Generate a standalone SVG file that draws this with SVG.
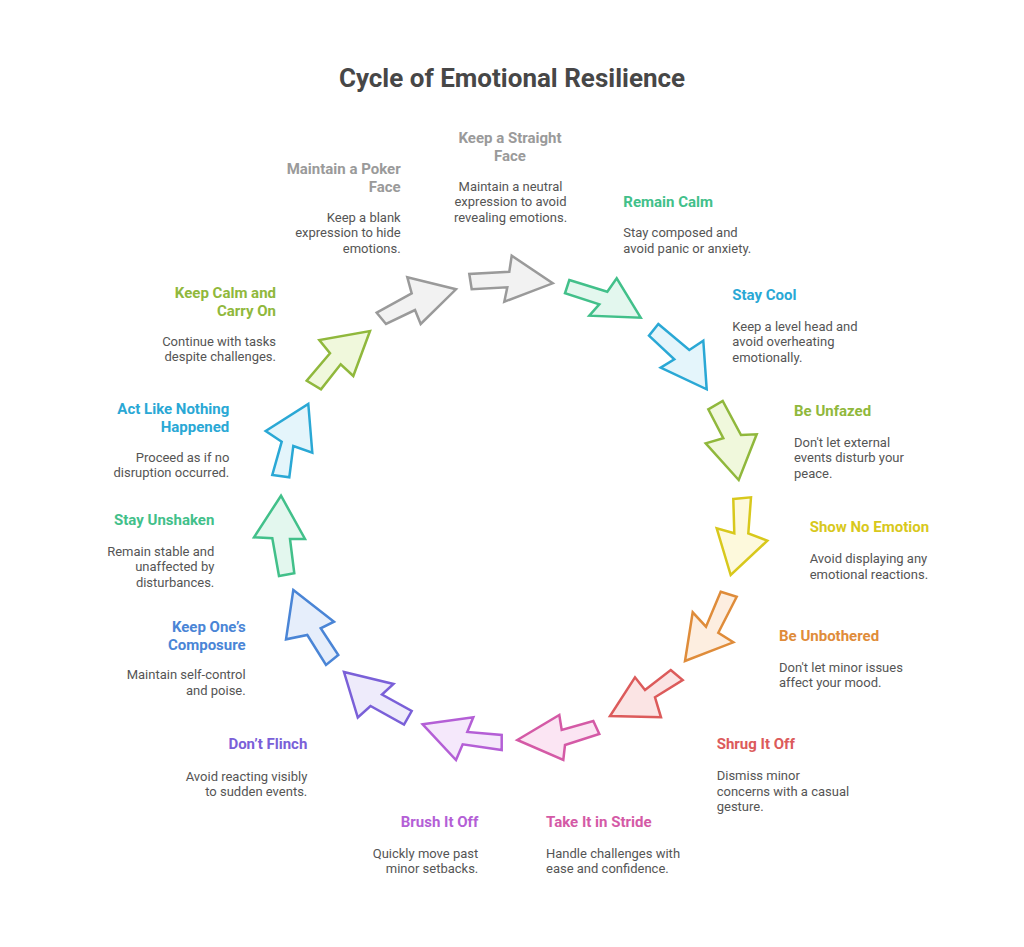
<svg xmlns="http://www.w3.org/2000/svg" width="1024" height="947" viewBox="0 0 1024 947">
<style>
.t{font-family:Roboto,"Liberation Sans",sans-serif;font-weight:700;font-size:15px}
.d{font-family:Roboto,"Liberation Sans",sans-serif;font-size:13px;fill:#555}
.h{font-family:Roboto,"Liberation Sans",sans-serif;font-weight:700;font-size:26px;fill:#474747}
.e{text-anchor:end}.m{text-anchor:middle}
.a{stroke-width:2.5;stroke-linejoin:miter}
.gray{fill:#9a9a9a}.green{fill:#42c08a}.cyan{fill:#2aa8d5}.yg{fill:#90b83c}.yel{fill:#d8c81c}.ora{fill:#df8c3a}.red{fill:#dc5b5b}.pink{fill:#d45aa6}.pur{fill:#b45fd6}.vio{fill:#7a60d8}.blue{fill:#4a85d6}
</style>
<rect width="1024" height="947" fill="#fff"/>
<text class="h m" x="512" y="87">Cycle of Emotional Resilience</text>
<g id="connectors">
<polygon class="a" fill="#f2f2f2" stroke="#9a9a9a" points="376.7,312.7 386,324 415,310 420.7,324 456,289.3 407.3,277.3 411.7,293.3"/>
<polygon class="a" fill="#f2f2f2" stroke="#9a9a9a" points="469.3,274 471.7,289.3 507.3,287.3 504.3,301.7 552.7,283.3 511.7,255.7 509.3,271.7"/>
<polygon class="a" fill="#e3f7ee" stroke="#42c08a" points="569.3,280 607.3,291.7 616.7,278.3 640.7,317.7 589.3,315.7 599.3,304.3 565,293.3"/>
<polygon class="a" fill="#e4f5fb" stroke="#2aa8d5" points="658.3,324 689.3,350 703.3,340.7 706.7,389.3 660.7,367.7 674.3,359.3 649,335.7"/>
<polygon class="a" fill="#f0f8dc" stroke="#90b83c" points="708.3,409.3 722.7,401 741,435 756.7,434.3 738.7,480 705.7,443.3 723.3,438.3"/>
<polygon class="a" fill="#fdf9dc" stroke="#d8c81c" points="733.3,499 751,497.3 748.3,533.3 767.3,540.7 730.7,575 716.7,528.3 734.3,533.3"/>
<polygon class="a" fill="#fdeee0" stroke="#df8c3a" points="720.7,591.7 736.7,596.7 718.3,632.7 733.3,642.3 685,661 692.7,612.3 706,626.7"/>
<polygon class="a" fill="#fbe4e4" stroke="#dc5b5b" points="670.7,670 682.7,680 655,697.3 661,717.3 610,716 635,677.3 645,690"/>
<polygon class="a" fill="#fbe5f3" stroke="#d45aa6" points="517.3,740 559.3,715 561.7,730 593.3,721 599.3,734 565,745 563.3,760"/>
<polygon class="a" fill="#f5e8fb" stroke="#b45fd6" points="422.7,724.3 473.3,717.3 467.3,732 501.7,735 501.7,750 462.7,744.3 456,760"/>
<polygon class="a" fill="#eeebfb" stroke="#7a60d8" points="344,672 393.5,684 382,694.5 411.7,711 404,724.5 370.5,706 357.8,717.5"/>
<polygon class="a" fill="#e6eefb" stroke="#4a85d6" points="293.3,590 334,621.7 320.7,628.3 338.3,655 326,665 307.3,635 286,639.3"/>
<polygon class="a" fill="#e3f7ee" stroke="#42c08a" points="281,495.7 305,539 290,539 294.3,573.3 279,576 272.3,538.3 254,537.3"/>
<polygon class="a" fill="#e4f5fb" stroke="#2aa8d5" points="308.3,404 312.3,452.7 293.3,446 289.3,477.3 272.3,475 281.7,441.7 265.7,431"/>
<polygon class="a" fill="#f0f8dc" stroke="#90b83c" points="370,331 353.3,376 340.7,364.3 321,389.3 306.7,380.7 330,353.3 319.3,340"/>
</g>
<g id="n-straight-face"><text class="t gray m" x="510" y="143.3">Keep a Straight</text><text class="t gray m" x="510" y="161.3">Face</text>
<text class="d m" x="510.5" y="190.7">Maintain a neutral</text><text class="d m" x="510.5" y="206.2">expression to avoid</text><text class="d m" x="510.5" y="221.7">revealing emotions.</text></g>
<g id="n-poker-face"><text class="t gray e" x="400.7" y="174.3">Maintain a Poker</text><text class="t gray e" x="400.7" y="192.3">Face</text>
<text class="d e" x="400.7" y="221.7">Keep a blank</text><text class="d e" x="400.7" y="237.2">expression to hide</text><text class="d e" x="400.7" y="252.7">emotions.</text></g>
<g id="n-remain-calm"><text class="t green" x="623.3" y="206.7">Remain Calm</text>
<text class="d" x="623.3" y="237.3">Stay composed and</text><text class="d" x="623.3" y="252.8">avoid panic or anxiety.</text></g>
<g id="n-stay-cool"><text class="t cyan" x="732.3" y="300">Stay Cool</text>
<text class="d" x="732.3" y="330.5">Keep a level head and</text><text class="d" x="732.3" y="346">avoid overheating</text><text class="d" x="732.3" y="361.5">emotionally.</text></g>
<g id="n-be-unfazed"><text class="t yg" x="794" y="415.7">Be Unfazed</text>
<text class="d" x="794" y="446.5">Don't let external</text><text class="d" x="794" y="462">events disturb your</text><text class="d" x="794" y="477.5">peace.</text></g>
<g id="n-show-no-emotion"><text class="t yel" x="809.7" y="532.3">Show No Emotion</text>
<text class="d" x="809.7" y="563">Avoid displaying any</text><text class="d" x="809.7" y="578.5">emotional reactions.</text></g>
<g id="n-be-unbothered"><text class="t ora" x="779" y="641">Be Unbothered</text>
<text class="d" x="779" y="671.7">Don't let minor issues</text><text class="d" x="779" y="687.2">affect your mood.</text></g>
<g id="n-shrug-it-off"><text class="t red" x="716.7" y="749.3">Shrug It Off</text>
<text class="d" x="716.7" y="780">Dismiss minor</text><text class="d" x="716.7" y="795.5">concerns with a casual</text><text class="d" x="716.7" y="811">gesture.</text></g>
<g id="n-take-it-in-stride"><text class="t pink" x="546" y="826.7">Take It in Stride</text>
<text class="d" x="546" y="857.7">Handle challenges with</text><text class="d" x="546" y="873.2">ease and confidence.</text></g>
<g id="n-brush-it-off"><text class="t pur e" x="478.3" y="826.7">Brush It Off</text>
<text class="d e" x="478.3" y="857.7">Quickly move past</text><text class="d e" x="478.3" y="873.2">minor setbacks.</text></g>
<g id="n-dont-flinch"><text class="t vio e" x="307.3" y="749.3">Don’t Flinch</text>
<text class="d e" x="307.3" y="780.5">Avoid reacting visibly</text><text class="d e" x="307.3" y="796">to sudden events.</text></g>
<g id="n-composure"><text class="t blue e" x="245.7" y="631.7">Keep One’s</text><text class="t blue e" x="245.7" y="649.7">Composure</text>
<text class="d e" x="245.7" y="679">Maintain self-control</text><text class="d e" x="245.7" y="694.5">and poise.</text></g>
<g id="n-stay-unshaken"><text class="t green e" x="214.3" y="525">Stay Unshaken</text>
<text class="d e" x="214.3" y="555.7">Remain stable and</text><text class="d e" x="214.3" y="571.2">unaffected by</text><text class="d e" x="214.3" y="586.7">disturbances.</text></g>
<g id="n-act-like-nothing"><text class="t cyan e" x="229.3" y="414.3">Act Like Nothing</text><text class="t cyan e" x="229.3" y="432.3">Happened</text>
<text class="d e" x="229.3" y="461.7">Proceed as if no</text><text class="d e" x="229.3" y="477.2">disruption occurred.</text></g>
<g id="n-keep-calm"><text class="t yg e" x="276" y="298.3">Keep Calm and</text><text class="t yg e" x="276" y="316.3">Carry On</text>
<text class="d e" x="276" y="345.7">Continue with tasks</text><text class="d e" x="276" y="361.2">despite challenges.</text></g>
</svg>
